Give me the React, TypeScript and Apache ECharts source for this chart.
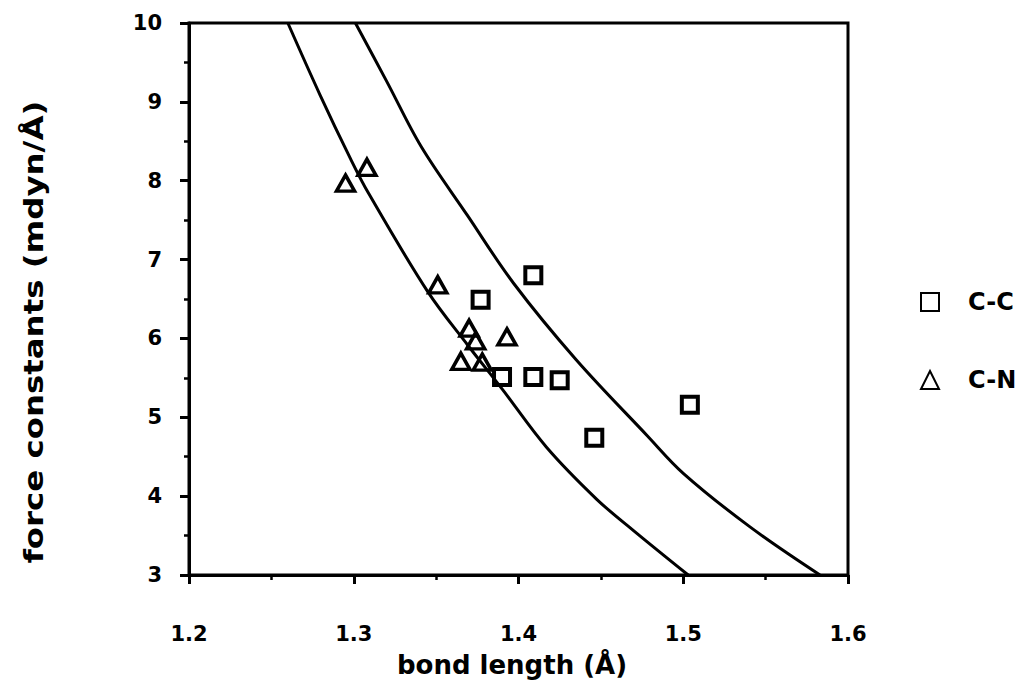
import React, { useEffect, useRef } from "react";
import * as echarts from "echarts";

const ccX = [1.409, 1.377, 1.390, 1.409, 1.425, 1.446, 1.504];
const ccY = [6.80, 6.49, 5.51, 5.51, 5.47, 4.74, 5.16];
const cnX = [1.295, 1.308, 1.351, 1.370, 1.374, 1.393, 1.365, 1.378];
const cnY = [7.97, 8.17, 6.68, 6.13, 5.97, 6.02, 5.71, 5.70];

const lowerX = [1.260, 1.2795, 1.298, 1.309, 1.345, 1.369, 1.390, 1.417, 1.4475, 1.470, 1.503];
const lowerY = [10.0, 9.09, 8.28, 7.84, 6.59, 5.92, 5.36, 4.62, 3.96, 3.56, 3.0];
const upperX = [1.301, 1.320, 1.341, 1.369, 1.397, 1.435, 1.478, 1.500, 1.5405, 1.583];
const upperY = [10.0, 9.26, 8.43, 7.56, 6.70, 5.73, 4.77, 4.29, 3.61, 3.0];

const xTitle = "bond length (Å)";
const yTitle = "force constants (mdyn/Å)";
const seriesNames = ["C-C", "C-N"];

const zip = (xs: number[], ys: number[]) => xs.map((x, i) => [x, ys[i]]);

const FONT = '"DejaVu Sans", sans-serif';

export default function App() {
  const ref = useRef<HTMLDivElement>(null);
  useEffect(() => {
    document.body.style.margin = "0";
    const chart = echarts.init(ref.current!, null, { renderer: "svg" });
    const axisCommon = {
      type: "value",
      splitLine: { show: false },
      axisLine: { show: true, onZero: false, lineStyle: { color: "#000", width: 3 } },
      axisTick: { show: true, inside: false, length: 9, lineStyle: { color: "#000", width: 3 } },
      minorTick: { show: true, splitNumber: 2, length: 5, lineStyle: { color: "#000", width: 2.5 } },
      axisLabel: { color: "#000", fontSize: 21, fontWeight: "bold", fontFamily: FONT },
    };
    chart.setOption({
      animation: false,
      backgroundColor: "#fff",
      grid: { left: 189, top: 23, width: 659, height: 552, show: true, borderColor: "#000", borderWidth: 3, backgroundColor: "transparent" },
      xAxis: {
        ...axisCommon,
        min: 1.2,
        max: 1.6,
        interval: 0.1,
        axisLabel: { ...axisCommon.axisLabel, margin: 48, formatter: (v: number) => v.toFixed(1) },
      },
      yAxis: {
        ...axisCommon,
        min: 3,
        max: 10,
        interval: 1,
        axisLabel: { ...axisCommon.axisLabel, margin: 27 },
      },
      legend: {
        data: seriesNames,
        orient: "vertical",
        left: 915,
        top: 285,
        itemWidth: 18,
        itemHeight: 18,
        itemGap: 54,
        textStyle: { color: "#000", fontSize: 24, fontWeight: "bold", fontFamily: FONT, padding: [0, 0, 0, 24] },
      },
      graphic: [
        {
          type: "text",
          x: 33,
          y: 332,
          rotation: Math.PI / 2,
          scaleX: 1.2,
          style: { text: yTitle, font: `bold 27px ${FONT}`, fill: "#000", align: "center", verticalAlign: "middle", textAlign: "center", textVerticalAlign: "middle" },
        },
        {
          type: "text",
          x: 512,
          y: 665,
          style: { text: xTitle, font: `bold 26px ${FONT}`, fill: "#000", align: "center", verticalAlign: "middle", textAlign: "center", textVerticalAlign: "middle" },
        },
      ],
      series: [
        {
          type: "line",
          data: zip(lowerX, lowerY),
          showSymbol: false,
          smooth: 0.35,
          silent: true,
          lineStyle: { color: "#000", width: 3 },
          z: 1,
        },
        {
          type: "line",
          data: zip(upperX, upperY),
          showSymbol: false,
          smooth: 0.35,
          silent: true,
          lineStyle: { color: "#000", width: 3 },
          z: 1,
        },
        {
          name: seriesNames[0],
          type: "scatter",
          symbol: "rect",
          symbolSize: 16,
          data: zip(ccX, ccY),
          itemStyle: { color: "rgba(255,255,255,0)", borderColor: "#000", borderWidth: 4, opacity: 1 },
          z: 3,
        },
        {
          name: seriesNames[1],
          type: "scatter",
          symbol: "triangle",
          symbolSize: [18, 16],
          data: zip(cnX, cnY),
          itemStyle: { color: "rgba(255,255,255,0)", borderColor: "#000", borderWidth: 3.5, opacity: 1 },
          z: 3,
        },
      ],
    });
    return () => chart.dispose();
  }, []);
  return <div ref={ref} style={{ width: 1025, height: 692 }} />;
}
